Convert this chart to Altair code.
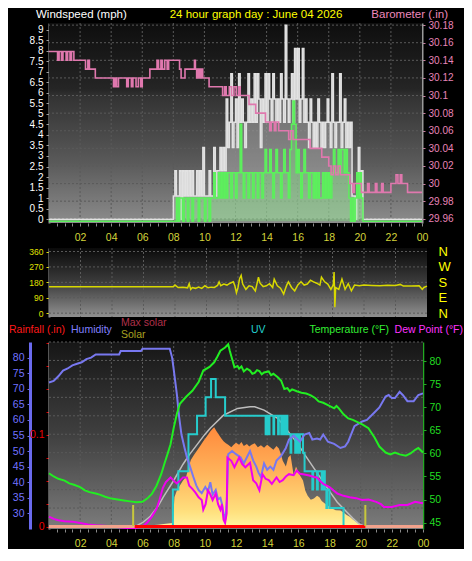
import json
import altair as alt
import pandas as pd

FONT = "Liberation Sans"

# ------------------------------------------------------------------ data
# wind record (mph), one reading every 6 minutes from 08:00, zero outside
WIND_T0 = 8.0
WIND_STEP = 0.1
GUST = [
    1.1, 2.3, 1.1, 1.1, 2.3, 0, 2.3, 1.1, 2.3, 1.1,
    2.3, 1.1, 2.3, 1.1, 1.1, 2.3, 1.1, 2.3, 1.1, 3.4,
    1.1, 1.1, 1.1, 2.3, 1.1, 1.1, 3.4, 1.1, 2.3, 2.3,
    3.4, 2.3, 3.4, 2.3, 5.7, 3.4, 4.6, 6.9, 3.4, 4.6,
    5.7, 3.4, 6.9, 4.6, 5.7, 4.6, 3.4, 4.6, 6.9, 4.6,
    5.7, 4.6, 6.9, 4.6, 6.9, 5.7, 3.4, 5.7, 4.6, 6.9,
    4.6, 6.9, 5.7, 4.6, 6.9, 5.7, 4.6, 5.7, 4.6, 6.9,
    5.7, 4.6, 9.2, 5.7, 4.6, 5.7, 6.9, 4.6, 8.1, 5.7,
    8.1, 4.6, 5.7, 8.1, 4.6, 5.7, 4.6, 3.4, 5.7, 4.6,
    3.4, 4.6, 3.4, 5.7, 4.6, 3.4, 4.6, 3.4, 4.6, 5.7,
    4.6, 3.4, 6.9, 4.6, 3.4, 4.6, 4.6, 6.9, 3.4, 4.6,
    5.7, 3.4, 4.6, 3.4, 4.6, 1.1, 1.1, 0, 1.1, 3.4,
    1.1, 2.3, 0, 0,
]
AVG = [
    0, 0, 1.1, 0, 1.1, 1.1, 0, 1.1, 1.1, 0,
    1.1, 1.1, 0, 1.1, 1.1, 1.1, 0, 1.1, 1.1, 1.1,
    0, 1.1, 1.1, 0, 1.1, 1.1, 2.3, 1.1, 1.1, 2.3,
    1.1, 2.3, 1.1, 2.3, 1.1, 2.3, 2.3, 1.1, 2.3, 2.3,
    1.1, 2.3, 2.3, 4.6, 2.3, 1.1, 2.3, 2.3, 1.1, 2.3,
    2.3, 1.1, 2.3, 2.3, 1.1, 2.3, 2.3, 1.1, 2.3, 3.4,
    2.3, 2.3, 3.4, 2.3, 1.1, 2.3, 3.4, 2.3, 2.3, 1.1,
    2.3, 3.4, 2.3, 2.3, 1.1, 3.4, 4.6, 5.7, 4.6, 2.3,
    3.4, 2.3, 1.1, 2.3, 3.4, 2.3, 2.3, 1.1, 2.3, 2.3,
    1.1, 2.3, 1.1, 2.3, 1.1, 1.1, 2.3, 1.1, 2.3, 1.1,
    2.3, 1.1, 2.3, 3.4, 2.3, 2.3, 3.4, 2.3, 3.4, 3.4,
    2.3, 3.4, 2.3, 1.1, 0, 1.1, 0, 1.1, 2.3, 1.1,
    2.3, 1.1, 0, 0,
]
# barometer (inHg), (hour, value) steps
BARO = [
    (0.0, 30.15), (0.55, 30.14), (0.65, 30.15), (0.8, 30.14), (0.9, 30.15), (1.1, 30.14),
    (1.2, 30.15), (1.35, 30.14), (1.45, 30.15), (1.6, 30.14), (2.35, 30.13), (2.5, 30.14),
    (2.6, 30.13), (2.98, 30.12), (4.15, 30.11), (4.25, 30.12), (4.35, 30.11), (4.47, 30.12),
    (5.0, 30.11), (5.1, 30.12), (5.3, 30.11), (5.4, 30.12), (5.6, 30.11), (5.75, 30.12),
    (5.9, 30.11), (6.0, 30.12), (6.49, 30.13), (6.95, 30.14), (7.05, 30.13), (7.2, 30.14),
    (7.3, 30.13), (7.45, 30.14), (7.6, 30.13), (7.7, 30.14), (8.4, 30.13), (8.5, 30.12),
    (8.75, 30.13), (9.36, 30.14), (9.42, 30.13), (9.5, 30.12), (9.6, 30.13), (9.7, 30.12),
    (9.8, 30.13), (9.89, 30.12), (10.3, 30.11), (11.17, 30.10), (11.3, 30.11), (11.4, 30.10),
    (11.6, 30.11), (11.75, 30.10), (11.9, 30.11), (12.05, 30.10), (12.2, 30.11), (12.3, 30.10),
    (12.87, 30.09), (13.3, 30.08), (13.93, 30.07), (14.2, 30.06), (14.3, 30.07), (14.5, 30.06),
    (14.6, 30.07), (14.78, 30.06), (15.42, 30.05), (15.55, 30.06), (15.7, 30.05), (16.8, 30.04),
    (17.55, 30.03), (18.0, 30.02), (18.15, 30.01), (18.3, 30.02), (18.45, 30.01), (18.6, 30.02),
    (18.75, 30.01), (19.36, 30.00), (19.55, 29.99), (19.65, 30.00), (20.1, 29.99), (20.5, 30.00),
    (20.6, 29.99), (21.0, 30.00), (21.1, 29.99), (21.4, 30.00), (21.5, 29.99), (22.0, 30.00),
    (22.33, 30.01), (22.45, 30.00), (22.6, 30.01), (22.7, 30.00), (23.07, 29.99), (24.0, 29.99),
]
# wind direction (degrees)
DIRECTION = [
    (0.0, 155), (7.9, 155), (8.0, 164), (8.2, 150), (8.5, 152), (8.8, 148), (8.9, 172),
    (9.0, 139), (9.1, 150), (9.3, 145), (9.5, 152), (9.7, 145), (9.9, 160), (10.1, 148),
    (10.3, 152), (10.5, 150), (10.7, 162), (10.8, 183), (10.9, 160), (11.1, 170), (11.3, 164),
    (11.5, 175), (11.7, 183), (11.8, 160), (11.9, 119), (12.0, 150), (12.1, 201), (12.2, 220),
    (12.3, 170), (12.5, 139), (12.7, 160), (12.9, 155), (13.1, 130), (13.3, 210), (13.4, 175),
    (13.6, 155), (13.8, 160), (14.0, 172), (14.2, 150), (14.3, 199), (14.5, 160), (14.7, 146),
    (14.9, 112), (15.0, 140), (15.1, 165), (15.2, 183), (15.4, 150), (15.6, 130), (15.8, 165),
    (16.0, 183), (16.2, 164), (16.4, 170), (16.6, 192), (16.8, 183), (17.0, 175), (17.2, 164),
    (17.3, 210), (17.5, 183), (17.7, 170), (17.9, 139), (18.05, 165), (18.1, 240), (18.15, 35),
    (18.2, 150), (18.4, 139), (18.6, 199), (18.8, 139), (19.0, 172), (19.2, 130), (19.4, 164),
    (19.7, 160), (20.0, 165), (20.5, 162), (21.0, 160), (21.5, 163), (22.0, 162), (22.3, 168),
    (22.5, 158), (23.0, 158), (23.5, 160), (23.7, 139), (23.8, 150), (24.0, 158),
]
# humidity (%)
HUMIDITY = [
    (0.0, 72), (0.3, 72.5), (0.6, 74), (0.9, 75.8), (1.2, 76.5), (1.5, 77.5), (1.8, 78),
    (2.1, 78.5), (2.4, 79.5), (2.7, 80), (3.0, 81), (4.5, 81), (4.6, 82.1), (5.9, 82.1),
    (6.0, 82.8), (7.75, 82.8), (7.9, 80), (8.0, 76.3), (8.2, 68.4), (8.35, 61), (8.5, 55.3),
    (8.7, 51), (8.85, 48), (9.05, 45), (9.27, 41.6), (9.45, 39), (9.6, 37.5), (9.8, 36.5),
    (10.03, 38.5), (10.2, 37), (10.35, 40), (10.5, 36), (10.7, 37.5), (10.85, 34.5),
    (11.0, 35), (11.1, 33), (11.2, 30), (11.32, 28), (11.42, 35), (11.5, 49), (11.75, 50),
    (12.0, 49), (12.3, 48), (12.5, 46), (12.7, 48), (12.9, 50), (13.1, 47), (13.3, 45),
    (13.45, 43), (13.6, 41.7), (13.8, 46), (14.0, 44), (14.2, 45), (14.4, 44), (14.6, 47),
    (14.9, 48.5), (15.2, 51), (15.4, 53.7), (15.7, 55), (15.9, 54), (16.1, 53), (16.4, 55.3),
    (16.7, 55.8), (16.9, 53.7), (17.2, 54), (17.4, 53.7), (17.6, 55.3), (17.9, 53),
    (18.3, 52.3), (18.7, 51), (19.0, 51.5), (19.2, 53), (19.6, 58), (20.1, 59.5), (20.4, 60),
    (20.8, 62), (21.2, 64), (21.6, 67.5), (21.8, 68), (22.0, 67), (22.2, 67), (22.5, 69),
    (22.7, 68), (23.0, 66), (23.4, 66), (23.7, 68), (24.0, 68.5),
]
# temperature (F)
TEMPERATURE = [
    (0.0, 55.7), (0.3, 55.0), (0.6, 54.5), (1.0, 54.1), (1.3, 53.5), (1.6, 53.2), (2.0, 52.7),
    (2.3, 52.0), (2.6, 51.6), (3.0, 51.3), (3.3, 51.0), (3.6, 50.6), (4.0, 50.2), (4.4, 50.0),
    (4.8, 49.8), (5.2, 49.6), (5.6, 49.4), (6.0, 49.5), (6.3, 50.2), (6.6, 51.2), (6.9, 53.0),
    (7.2, 55.5), (7.4, 57.7), (7.6, 59.8), (7.8, 62.0), (8.0, 65.5), (8.2, 68.5), (8.4, 70.8),
    (8.8, 72.3), (9.2, 73.6), (9.6, 75.5), (9.9, 78.0), (10.3, 78.8), (10.6, 79.8), (10.8, 81.0),
    (11.0, 82.3), (11.3, 83.0), (11.5, 83.7), (11.6, 82.3), (11.75, 80.5), (11.9, 78.7),
    (12.1, 79.0), (12.2, 78.4), (12.35, 78.9), (12.5, 77.8), (12.7, 78.4), (12.9, 78.0),
    (13.05, 77.3), (13.2, 77.5), (13.35, 78.1), (13.5, 77.9), (13.65, 77.2), (13.8, 77.6),
    (14.1, 77.8), (14.25, 77.0), (14.4, 77.3), (14.7, 76.5), (14.9, 75.8), (15.1, 74.0),
    (15.3, 74.2), (15.45, 73.5), (15.6, 73.9), (15.9, 73.5), (16.2, 73.2), (16.5, 73.0),
    (16.8, 72.6), (17.1, 72.0), (17.3, 71.3), (17.6, 71.0), (17.9, 70.5), (18.3, 69.8),
    (18.45, 70.3), (18.6, 69.8), (18.9, 68.5), (19.2, 67.6), (19.5, 67.3), (20.1, 66.3),
    (20.5, 65.5), (20.9, 63.4), (21.2, 61.5), (21.6, 60.2), (21.9, 59.8), (22.2, 60.2),
    (22.5, 59.8), (22.9, 59.5), (23.2, 60.0), (23.5, 60.8), (23.7, 61.2), (24.0, 60.2),
]
# dew point (F)
DEWPOINT = [
    (0.0, 46.3), (0.3, 45.8), (0.6, 45.5), (1.0, 45.3), (1.5, 45.2), (2.0, 44.9), (2.5, 44.6),
    (3.0, 44.4), (3.5, 44.3), (4.0, 44.2), (4.5, 44.0), (5.0, 43.8), (5.5, 43.8), (6.0, 44.1),
    (6.3, 45.0), (6.6, 46.3), (6.9, 48.0), (7.1, 50.0), (7.3, 52.5), (7.5, 53.8), (7.8, 54.8),
    (8.0, 54.1), (8.2, 53.5), (8.4, 54.1), (8.6, 54.8), (8.85, 54.8), (9.0, 53.0), (9.2, 52.3),
    (9.4, 51.5), (9.6, 50.5), (9.8, 49.9), (9.9, 47.8), (10.05, 49.0), (10.2, 52.0),
    (10.3, 51.5), (10.5, 49.9), (10.7, 51.3), (10.85, 49.0), (11.0, 47.8), (11.1, 49.0),
    (11.2, 45.6), (11.3, 44.9), (11.4, 47.0), (11.45, 59.1), (11.7, 58.4), (11.9, 57.0),
    (12.2, 59.1), (12.4, 57.7), (12.6, 57.0), (12.9, 58.0), (13.1, 54.2), (13.3, 53.5),
    (13.5, 52.0), (13.7, 55.5), (13.9, 54.5), (14.1, 54.2), (14.3, 53.4), (14.6, 54.8),
    (14.8, 53.8), (15.0, 54.2), (15.2, 55.0), (15.4, 55.5), (15.7, 55.3), (15.9, 56.3),
    (16.1, 55.6), (16.3, 55.5), (16.7, 55.2), (17.0, 54.9), (17.2, 54.8), (17.4, 54.0),
    (17.6, 53.4), (18.0, 52.7), (18.5, 51.3), (18.9, 50.8), (19.3, 50.5), (19.7, 50.3),
    (20.1, 49.9), (20.5, 50.0), (21.0, 49.5), (21.3, 49.0), (21.5, 48.4), (22.0, 48.4),
    (22.5, 48.8), (23.0, 48.8), (23.5, 49.5), (23.8, 49.3), (24.0, 49.2),
]
# UV index steps
UV = [
    (7.9, 0), (7.95, 2), (8.3, 3), (8.95, 5), (9.5, 6), (10.05, 7), (10.4, 8), (10.7, 7),
    (11.3, 6), (13.9, 5), (13.95, 6), (14.05, 5), (14.15, 6), (14.4, 5), (14.45, 6), (14.7, 5),
    (14.75, 6), (14.9, 5), (15.0, 6), (15.1, 5), (15.2, 6), (15.3, 5), (15.5, 4), (15.55, 5),
    (15.8, 4), (15.9, 5), (16.0, 4), (16.1, 5), (16.3, 4), (16.4, 3), (16.9, 2), (16.95, 3),
    (17.2, 2), (17.25, 3), (17.5, 2), (17.6, 3), (17.7, 2), (17.8, 1), (17.85, 2), (18.0, 1),
    (18.9, 0),
]
# solar radiation (W/m2)
SOLAR = [
    (5.5, 0), (6.0, 5), (6.5, 10), (7.0, 15), (7.5, 22), (7.95, 28), (8.05, 230), (8.2, 280),
    (8.4, 320), (8.6, 360), (8.8, 390), (9.0, 480), (9.1, 520), (9.3, 560), (9.5, 595),
    (9.7, 630), (9.9, 667), (10.1, 700), (10.36, 744), (10.5, 765), (10.6, 775), (10.75, 745),
    (10.9, 718), (11.05, 690), (11.2, 667), (11.35, 650), (11.5, 640), (11.7, 620),
    (11.85, 640), (12.0, 655), (12.2, 640), (12.35, 660), (12.5, 630), (12.7, 645),
    (12.85, 625), (13.0, 640), (13.2, 650), (13.4, 620), (13.6, 635), (13.8, 615), (14.0, 640),
    (14.2, 620), (14.4, 600), (14.6, 630), (14.75, 610), (14.9, 560), (15.0, 515), (15.2, 470),
    (15.35, 540), (15.5, 560), (15.6, 480), (15.7, 400), (15.85, 470), (15.95, 440),
    (16.1, 400), (16.3, 360), (16.45, 280), (16.6, 240), (16.8, 210), (17.0, 220), (17.2, 240),
    (17.35, 230), (17.5, 200), (17.7, 180), (18.0, 155), (18.2, 140), (18.4, 128), (18.7, 125),
    (18.9, 110), (19.1, 90), (19.3, 77), (19.5, 55), (19.7, 38), (19.9, 22), (20.1, 12),
    (20.3, 0),
]
# theoretical maximum solar radiation (W/m2)
MAX_SOLAR = [
    (5.5, 0), (6.0, 30), (6.5, 80), (7.0, 160), (7.33, 230), (8.0, 360), (8.6, 487), (9.0, 560),
    (9.5, 640), (10.0, 720), (10.36, 770), (11.2, 870), (12.1, 923), (12.9, 936), (13.2, 936),
    (13.8, 910), (14.67, 846), (15.0, 800), (15.5, 718), (16.0, 640), (16.4, 564), (17.26, 410),
    (17.7, 330), (18.12, 256), (18.5, 190), (19.0, 128), (19.5, 65), (19.85, 25), (20.3, 0),
]
RAIN_DAY = [(0.0, 0.0), (24.0, 0.0)]
RAIN_LIT = [(5.5, 0.0), (20.3, 0.0)]
SUN_EVENTS = [5.4, 20.3]

# ticks and labels
HOUR_TICKS = [2, 4, 6, 8, 10, 12, 14, 16, 18, 20, 22, 24]
HOUR_LABELS = ["02", "04", "06", "08", "10", "12", "14", "16", "18", "20", "22", "00"]
MINOR_HOURS = [0.5 * k for k in range(1, 49)]
WIND_TICKS = [0, 0.5, 1, 1.5, 2, 2.5, 3, 3.5, 4, 4.5, 5, 5.5, 6, 6.5, 7, 7.5, 8, 8.5, 9]
BARO_TICKS = [29.96, 29.98, 30.0, 30.02, 30.04, 30.06, 30.08, 30.1, 30.12, 30.14, 30.16, 30.18]
DIR_TICKS = [0, 90, 180, 270, 360]
DIR_LABELS = ["N", "E", "S", "W", "N"]
HUM_TICKS = [30, 35, 40, 45, 50, 55, 60, 65, 70, 75, 80]
TEMP_TICKS = [45, 50, 55, 60, 65, 70, 75, 80]
RAIN_TICKS = [0, 0.025, 0.05, 0.075, 0.1, 0.125, 0.15, 0.175, 0.2]
RAIN_LABELS = ["0", "", "", "", "0.1", "", "", "", ""]
UV_GRID = [1, 2, 3, 4, 5, 6, 7, 8, 9, 10]

# scale domains (axis ranges)
WIND_DOM = [-0.18, 9.31]
BARO_DOM = [29.9552, 30.1824]
DIR_DOM = [-22.4, 380.6]
HUM_DOM = [25, 85]
TEMP_DOM = [43.6, 84.2]
RAIN_DOM = [-0.0027, 0.2009]
UV_DOM = [-0.135, 10.0]
SOLAR_DOM = [-19, 1442]

# ------------------------------------------------------------------ layout
TOP_W, TOP_H = 373, 200
MID_W, MID_H = 378, 69
BOT_W, BOT_H = 374, 187
GRID_COLOR = "#5a5a5a"


def pairs(p, name="v"):
    return pd.DataFrame({"t": [a for a, _ in p], name: [b for _, b in p]})


def lookup_expr(ticks, labels):
    t = json.dumps(ticks)
    lab = json.dumps(labels)
    return f"indexof({t}, datum.value) < 0 ? '' : {lab}[indexof({t}, datum.value)]"


hour_axis = alt.Axis(values=MINOR_HOURS, labelExpr=lookup_expr(HOUR_TICKS, HOUR_LABELS),
                     labelColor="#d4d43a", labelFontSize=10.5, tickColor="#8a8a8a",
                     tickSize=3, domain=False, grid=False, labelPadding=6,
                     labelFlush=False, labelOverlap=False, orient="bottom")


def xenc(axis):
    return alt.X("t:Q", scale=alt.Scale(domain=[0, 24], nice=False, zero=False),
                 axis=axis, title=None)


def yenc(field, domain, axis=None):
    return alt.Y(f"{field}:Q", scale=alt.Scale(domain=domain, nice=False, zero=False),
                 axis=axis, title=None)


def vgrad(stops):
    return alt.LinearGradient(
        gradient="linear", x1=0, x2=0, y1=0, y2=1,
        stops=[alt.GradientStop(color=c, offset=o) for o, c in stops])


def background(w, h, stops):
    return alt.Chart(pd.DataFrame({"a": [0]})).mark_rect(color=vgrad(stops)).encode(
        x=alt.value(0), x2=alt.value(w), y=alt.value(0), y2=alt.value(h))


def label(text, x, y, color, size=11, align="left"):
    return alt.Chart(pd.DataFrame({"s": [text]})).mark_text(
        align=align, baseline="middle", color=color, fontSize=size, font=FONT
    ).encode(x=alt.value(x), y=alt.value(y), text="s:N")


def vgrid(xa):
    return alt.Chart(pd.DataFrame({"t": HOUR_TICKS[:-1]})).mark_rule(
        color=GRID_COLOR, strokeDash=[2, 2], strokeWidth=1).encode(x=xenc(xa))


def hgrid(ticks, domain, axis=None):
    return alt.Chart(pd.DataFrame({"g": ticks})).mark_rule(
        color=GRID_COLOR, strokeDash=[2, 2], strokeWidth=1).encode(y=yenc("g", domain, axis))


# ------------------------------------------------------------------ top panel
wind_t = [0.0] + [round(WIND_T0 + i * WIND_STEP, 2) for i in range(len(GUST))] + [24.0]
gust_df = pd.DataFrame({"t": wind_t, "v": [0] + GUST + [0]})
avg_df = pd.DataFrame({"t": wind_t, "v": [0] + AVG + [0]})

wind_axis = alt.Axis(values=WIND_TICKS, format="~g", labelColor="#ffffff", labelFontSize=10,
                     domainColor="#9a9a9a", domainWidth=2, tickColor="#9a9a9a", tickSize=3,
                     grid=False, labelOverlap=False, labelPadding=3, orient="left")
baro_axis = alt.Axis(values=BARO_TICKS, format="~f", labelColor="#e884b8", labelFontSize=10,
                     domainColor="#9a9a9a", domainWidth=2, tickColor="#c87ca0", tickSize=3,
                     grid=False, labelOverlap=False, labelPadding=3, orient="right")

XA = hour_axis
top = alt.layer(
    background(TOP_W, TOP_H, [(0, "#0e0e0e"), (0.33, "#252525"), (0.37, "#333333"),
                              (0.7, "#5a5a5a"), (1, "#8c8c8c")]),
    vgrid(XA),
    hgrid(BARO_TICKS, BARO_DOM),
    alt.Chart(gust_df).mark_area(interpolate="step-after", color="#c8c8c8", opacity=0.4)
    .encode(x=xenc(XA), y=yenc("v", WIND_DOM)),
    alt.Chart(gust_df).mark_line(interpolate="step-after", color="#e2e2e2", strokeWidth=1.5)
    .encode(x=xenc(XA), y=yenc("v", WIND_DOM, wind_axis)),
    alt.Chart(avg_df).mark_area(interpolate="step-after", color="#7cf07c", opacity=0.35,
                                yOffset=2)
    .encode(x=xenc(XA), y=yenc("v", WIND_DOM)),
    alt.Chart(avg_df).mark_line(interpolate="step-after", color="#5cf05c", strokeWidth=1.5,
                                yOffset=2)
    .encode(x=xenc(XA), y=yenc("v", WIND_DOM)),
    alt.Chart(pairs(BARO)).mark_line(interpolate="step-after", color="#e078ae", strokeWidth=1.6)
    .encode(x=xenc(XA), y=yenc("v", BARO_DOM, baro_axis)),
    label("Windspeed (mph)", -13, -8, "#ffffff", size=11.5),
    label("24 hour graph day : June 04 2026", 207, -8, "#ffff00", size=11.5, align="center"),
    label("Barometer (.in)", 399, -8, "#ee88bb", size=11.5, align="right"),
).resolve_scale(y="independent").properties(width=TOP_W, height=TOP_H)

# ------------------------------------------------------------------ middle panel
dir_axis = alt.Axis(values=DIR_TICKS, labelColor="#e0e000", labelFontSize=8.5,
                    domainColor="#9a9a9a", domainWidth=2, tickColor="#e0e000", tickSize=3,
                    grid=False, labelOverlap=False, labelPadding=3, orient="left")
compass_axis = alt.Axis(values=DIR_TICKS, labelExpr=lookup_expr(DIR_TICKS, DIR_LABELS),
                        labelColor="#ffff00", labelFontSize=13, ticks=False, domain=False,
                        grid=False, labelOverlap=False, labelPadding=11, orient="right")

mid = alt.layer(
    background(MID_W, MID_H, [(0, "#0a0a0a"), (0.5, "#3c3c3c"), (1, "#909090")]),
    vgrid(None),
    hgrid(DIR_TICKS, DIR_DOM, compass_axis),
    alt.Chart(pairs(DIRECTION)).mark_line(color="#d8d800", strokeWidth=1.5)
    .encode(x=xenc(None), y=yenc("v", DIR_DOM, dir_axis)),
).resolve_scale(y="independent").properties(width=MID_W, height=MID_H)

# ------------------------------------------------------------------ bottom panel
hum_axis = alt.Axis(values=HUM_TICKS, labelColor="#7272ff", labelFontSize=10.5,
                    domainColor="#6a6aee", domainWidth=3, tickColor="#6a6aee", tickSize=3,
                    grid=False, labelOverlap=False, labelPadding=3, orient="left", offset=19)
rain_axis = alt.Axis(values=RAIN_TICKS, labelExpr=lookup_expr(RAIN_TICKS, RAIN_LABELS),
                     labelColor="#ee0000", labelFontSize=10.5, domainColor="#aaaaaa",
                     domainWidth=2, tickColor="#dd0000", tickSize=3, grid=False,
                     labelOverlap=False, labelPadding=2, orient="left")
temp_axis = alt.Axis(values=TEMP_TICKS, labelColor="#22dd22", labelFontSize=10.5,
                     domainColor="#22aa22", domainWidth=1.5, tickColor="#22aa22", tickSize=3,
                     grid=False, labelOverlap=False, labelPadding=3, orient="right")

solar_grad = vgrad([(0, "#ff8a3c"), (0.45, "#ffb25a"), (0.85, "#ffe07e"), (1, "#fff3a0")])

bot = alt.layer(
    background(BOT_W, BOT_H, [(0, "#161616"), (0.5, "#404040"), (1, "#7c7c7c")]),
    vgrid(XA),
    hgrid(UV_GRID, UV_DOM),
    alt.Chart(pairs(SOLAR)).mark_area(color=solar_grad)
    .encode(x=xenc(XA), y=yenc("v", SOLAR_DOM)),
    alt.Chart(pairs(MAX_SOLAR)).mark_line(color="#bdbdbd", strokeWidth=1.5)
    .encode(x=xenc(XA), y=yenc("v", SOLAR_DOM)),
    alt.Chart(pairs(UV)).mark_line(interpolate="step-after", color="#26cccc", strokeWidth=2)
    .encode(x=xenc(XA), y=yenc("v", UV_DOM)),
    alt.Chart(pairs(HUMIDITY)).mark_line(color="#7878f0", strokeWidth=2)
    .encode(x=xenc(XA), y=yenc("v", HUM_DOM, hum_axis)),
    alt.Chart(pairs(DEWPOINT)).mark_line(color="#f000f0", strokeWidth=2)
    .encode(x=xenc(XA), y=yenc("v", TEMP_DOM)),
    alt.Chart(pairs(TEMPERATURE)).mark_line(color="#22ee22", strokeWidth=2)
    .encode(x=xenc(XA), y=yenc("v", TEMP_DOM, temp_axis)),
    alt.Chart(pairs(RAIN_DAY)).mark_line(color="#f2a28c", strokeWidth=3)
    .encode(x=xenc(XA), y=yenc("v", RAIN_DOM, rain_axis)),
    alt.Chart(pairs(RAIN_LIT)).mark_line(color="#ff0000", strokeWidth=3)
    .encode(x=xenc(XA), y=yenc("v", RAIN_DOM)),
    alt.Chart(pd.DataFrame({"t": SUN_EVENTS})).mark_rule(color="#c8c83c", strokeWidth=2)
    .encode(x=xenc(XA), y=alt.value(BOT_H - 24), y2=alt.value(BOT_H - 3)),
    label("Rainfall (.in)", -40, -12, "#ff1a1a", size=10.5),
    label("Humidity", 22, -12, "#8080ff", size=10.5),
    label("Max solar", 72, -19, "#b0304a", size=10.5),
    label("Solar", 72, -7, "#a8a020", size=10.5),
    label("UV", 202, -12, "#22d0d0", size=10.5),
    label("Temperature (°F)", 340, -12, "#33ee33", size=10.5, align="right"),
    label("Dew Point (°F)", 414, -12, "#ff33ff", size=10.5, align="right"),
).resolve_scale(y="independent").properties(width=BOT_W, height=BOT_H)

chart = alt.vconcat(top, mid, bot, spacing=25, bounds="flush").properties(
    padding={"left": 0, "top": 0, "right": 0, "bottom": 0}
).configure(background="black", font=FONT).configure_view(stroke="transparent")

chart.save("out.html", embed_options={"renderer": "svg", "actions": False})
